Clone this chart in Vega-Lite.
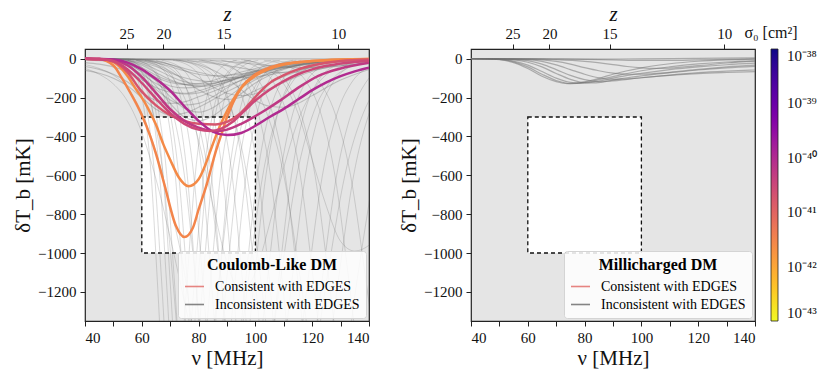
{
"$schema":"https://vega.github.io/schema/vega-lite/v6.json",
"padding":{"left":11,"top":2,"right":5,"bottom":5},
"background":"white",
"config":{
 "font":"Liberation Serif",
 "view":{"fill":"#e5e5e5","stroke":"#222222","strokeWidth":1.2},
 "axis":{"grid":false,"domain":false,"tickColor":"#222222","tickSize":5,"tickWidth":1,"labelFont":"Liberation Serif","titleFont":"Liberation Serif","labelColor":"#111111","titleColor":"#111111","labelFontSize":15,"titleFontSize":21,"titleFontWeight":"normal"},
 "legend":{"labelFont":"Liberation Serif","titleFont":"Liberation Serif"}
},
"datasets":{
"ce":[
{"c":"A","s":3e-42,"x":40,"y":0},{"c":"A","s":3e-42,"x":45,"y":-3},{"c":"A","s":3e-42,"x":50,"y":-35},{"c":"A","s":3e-42,"x":53,"y":-100},{"c":"A","s":3e-42,"x":55,"y":-150},{"c":"A","s":3e-42,"x":58,"y":-230},{"c":"A","s":3e-42,"x":60,"y":-290},{"c":"A","s":3e-42,"x":63,"y":-400},{"c":"A","s":3e-42,"x":65,"y":-490},{"c":"A","s":3e-42,"x":68,"y":-650},{"c":"A","s":3e-42,"x":72,"y":-860},{"c":"A","s":3e-42,"x":75,"y":-918},{"c":"A","s":3e-42,"x":78,"y":-870},{"c":"A","s":3e-42,"x":80,"y":-776},{"c":"A","s":3e-42,"x":83,"y":-640},{"c":"A","s":3e-42,"x":86,"y":-480},{"c":"A","s":3e-42,"x":88,"y":-390},{"c":"A","s":3e-42,"x":90,"y":-300},{"c":"A","s":3e-42,"x":92,"y":-230},{"c":"A","s":3e-42,"x":95,"y":-150},{"c":"A","s":3e-42,"x":100,"y":-80},{"c":"A","s":3e-42,"x":105,"y":-45},{"c":"A","s":3e-42,"x":110,"y":-27},{"c":"A","s":3e-42,"x":120,"y":-12},{"c":"A","s":3e-42,"x":130,"y":-5},{"c":"A","s":3e-42,"x":140,"y":-2},
{"c":"B","s":2.5e-42,"x":40,"y":0},{"c":"B","s":2.5e-42,"x":45,"y":-2},{"c":"B","s":2.5e-42,"x":50,"y":-18},{"c":"B","s":2.5e-42,"x":55,"y":-90},{"c":"B","s":2.5e-42,"x":58,"y":-158},{"c":"B","s":2.5e-42,"x":60,"y":-200},{"c":"B","s":2.5e-42,"x":62,"y":-250},{"c":"B","s":2.5e-42,"x":65,"y":-340},{"c":"B","s":2.5e-42,"x":67.6,"y":-441},{"c":"B","s":2.5e-42,"x":70,"y":-520},{"c":"B","s":2.5e-42,"x":73,"y":-610},{"c":"B","s":2.5e-42,"x":76.5,"y":-656},{"c":"B","s":2.5e-42,"x":80,"y":-620},{"c":"B","s":2.5e-42,"x":82,"y":-560},{"c":"B","s":2.5e-42,"x":85,"y":-440},{"c":"B","s":2.5e-42,"x":88,"y":-330},{"c":"B","s":2.5e-42,"x":90,"y":-270},{"c":"B","s":2.5e-42,"x":92,"y":-215},{"c":"B","s":2.5e-42,"x":95,"y":-150},{"c":"B","s":2.5e-42,"x":100,"y":-88},{"c":"B","s":2.5e-42,"x":105,"y":-52},{"c":"B","s":2.5e-42,"x":110,"y":-30},{"c":"B","s":2.5e-42,"x":120,"y":-12},{"c":"B","s":2.5e-42,"x":130,"y":-4},{"c":"B","s":2.5e-42,"x":140,"y":-1},
{"c":"P1","s":1.8e-41,"x":40,"y":0},{"c":"P1","s":1.8e-41,"x":45,"y":-2},{"c":"P1","s":1.8e-41,"x":50,"y":-15},{"c":"P1","s":1.8e-41,"x":55,"y":-70},{"c":"P1","s":1.8e-41,"x":59.4,"y":-159},{"c":"P1","s":1.8e-41,"x":65,"y":-240},{"c":"P1","s":1.8e-41,"x":70,"y":-290},{"c":"P1","s":1.8e-41,"x":75,"y":-320},{"c":"P1","s":1.8e-41,"x":80,"y":-335},{"c":"P1","s":1.8e-41,"x":86,"y":-338},{"c":"P1","s":1.8e-41,"x":90,"y":-325},{"c":"P1","s":1.8e-41,"x":94,"y":-290},{"c":"P1","s":1.8e-41,"x":98,"y":-230},{"c":"P1","s":1.8e-41,"x":102,"y":-165},{"c":"P1","s":1.8e-41,"x":106,"y":-115},{"c":"P1","s":1.8e-41,"x":110,"y":-85},{"c":"P1","s":1.8e-41,"x":115,"y":-55},{"c":"P1","s":1.8e-41,"x":120,"y":-35},{"c":"P1","s":1.8e-41,"x":130,"y":-12},{"c":"P1","s":1.8e-41,"x":140,"y":-4},
{"c":"P2","s":5.6e-41,"x":40,"y":0},{"c":"P2","s":5.6e-41,"x":45,"y":-2},{"c":"P2","s":5.6e-41,"x":50,"y":-8},{"c":"P2","s":5.6e-41,"x":55,"y":-35},{"c":"P2","s":5.6e-41,"x":60,"y":-95},{"c":"P2","s":5.6e-41,"x":64,"y":-159},{"c":"P2","s":5.6e-41,"x":70,"y":-260},{"c":"P2","s":5.6e-41,"x":75,"y":-320},{"c":"P2","s":5.6e-41,"x":80,"y":-355},{"c":"P2","s":5.6e-41,"x":86,"y":-373},{"c":"P2","s":5.6e-41,"x":90,"y":-365},{"c":"P2","s":5.6e-41,"x":95,"y":-335},{"c":"P2","s":5.6e-41,"x":100,"y":-295},{"c":"P2","s":5.6e-41,"x":104,"y":-260},{"c":"P2","s":5.6e-41,"x":109,"y":-212},{"c":"P2","s":5.6e-41,"x":115,"y":-150},{"c":"P2","s":5.6e-41,"x":122,"y":-89},{"c":"P2","s":5.6e-41,"x":130,"y":-50},{"c":"P2","s":5.6e-41,"x":140,"y":-21},
{"c":"P3","s":1e-40,"x":40,"y":0},{"c":"P3","s":1e-40,"x":45,"y":-1},{"c":"P3","s":1e-40,"x":50,"y":-4},{"c":"P3","s":1e-40,"x":55,"y":-20},{"c":"P3","s":1e-40,"x":60,"y":-55},{"c":"P3","s":1e-40,"x":65,"y":-105},{"c":"P3","s":1e-40,"x":70,"y":-165},{"c":"P3","s":1e-40,"x":75,"y":-245},{"c":"P3","s":1e-40,"x":80,"y":-320},{"c":"P3","s":1e-40,"x":85,"y":-375},{"c":"P3","s":1e-40,"x":90,"y":-393},{"c":"P3","s":1e-40,"x":95,"y":-382},{"c":"P3","s":1e-40,"x":100,"y":-345},{"c":"P3","s":1e-40,"x":105,"y":-300},{"c":"P3","s":1e-40,"x":110,"y":-258},{"c":"P3","s":1e-40,"x":115,"y":-210},{"c":"P3","s":1e-40,"x":120,"y":-162},{"c":"P3","s":1e-40,"x":125,"y":-122},{"c":"P3","s":1e-40,"x":130,"y":-90},{"c":"P3","s":1e-40,"x":135,"y":-65},{"c":"P3","s":1e-40,"x":140,"y":-46},
{"c":"P4","s":3e-41,"x":40,"y":0},{"c":"P4","s":3e-41,"x":45,"y":-2},{"c":"P4","s":3e-41,"x":50,"y":-12},{"c":"P4","s":3e-41,"x":55,"y":-55},{"c":"P4","s":3e-41,"x":60,"y":-125},{"c":"P4","s":3e-41,"x":65,"y":-205},{"c":"P4","s":3e-41,"x":70,"y":-280},{"c":"P4","s":3e-41,"x":75,"y":-335},{"c":"P4","s":3e-41,"x":80,"y":-365},{"c":"P4","s":3e-41,"x":84,"y":-372},{"c":"P4","s":3e-41,"x":88,"y":-360},{"c":"P4","s":3e-41,"x":92,"y":-325},{"c":"P4","s":3e-41,"x":96,"y":-270},{"c":"P4","s":3e-41,"x":100,"y":-215},{"c":"P4","s":3e-41,"x":105,"y":-160},{"c":"P4","s":3e-41,"x":110,"y":-115},{"c":"P4","s":3e-41,"x":115,"y":-80},{"c":"P4","s":3e-41,"x":120,"y":-55},{"c":"P4","s":3e-41,"x":130,"y":-25},{"c":"P4","s":3e-41,"x":140,"y":-10}
],
"cs":[
{"c":"s1","x":40,"y":0},{"c":"s1","x":50,"y":-4},{"c":"s1","x":55,"y":-20},{"c":"s1","x":60,"y":-55},{"c":"s1","x":65,"y":-95},{"c":"s1","x":70,"y":-122},{"c":"s1","x":75,"y":-132},{"c":"s1","x":80,"y":-128},{"c":"s1","x":85,"y":-112},{"c":"s1","x":90,"y":-88},{"c":"s1","x":95,"y":-68},{"c":"s1","x":100,"y":-50},{"c":"s1","x":110,"y":-25},{"c":"s1","x":120,"y":-11},{"c":"s1","x":130,"y":-4},{"c":"s1","x":140,"y":-1},
{"c":"s2","x":40,"y":0},{"c":"s2","x":50,"y":-3},{"c":"s2","x":55,"y":-15},{"c":"s2","x":60,"y":-45},{"c":"s2","x":65,"y":-85},{"c":"s2","x":70,"y":-115},{"c":"s2","x":75,"y":-133},{"c":"s2","x":80,"y":-138},{"c":"s2","x":85,"y":-128},{"c":"s2","x":90,"y":-106},{"c":"s2","x":95,"y":-82},{"c":"s2","x":100,"y":-60},{"c":"s2","x":110,"y":-30},{"c":"s2","x":120,"y":-14},{"c":"s2","x":130,"y":-6},{"c":"s2","x":140,"y":-2},
{"c":"s3","x":40,"y":0},{"c":"s3","x":50,"y":-2},{"c":"s3","x":55,"y":-10},{"c":"s3","x":60,"y":-33},{"c":"s3","x":65,"y":-72},{"c":"s3","x":70,"y":-108},{"c":"s3","x":75,"y":-132},{"c":"s3","x":80,"y":-143},{"c":"s3","x":85,"y":-138},{"c":"s3","x":90,"y":-120},{"c":"s3","x":95,"y":-97},{"c":"s3","x":100,"y":-75},{"c":"s3","x":110,"y":-40},{"c":"s3","x":120,"y":-20},{"c":"s3","x":130,"y":-9},{"c":"s3","x":140,"y":-4},
{"c":"s4","x":40,"y":-3},{"c":"s4","x":50,"y":-12},{"c":"s4","x":55,"y":-35},{"c":"s4","x":60,"y":-80},{"c":"s4","x":65,"y":-128},{"c":"s4","x":70,"y":-165},{"c":"s4","x":75,"y":-182},{"c":"s4","x":80,"y":-176},{"c":"s4","x":85,"y":-152},{"c":"s4","x":90,"y":-122},{"c":"s4","x":95,"y":-92},{"c":"s4","x":100,"y":-66},{"c":"s4","x":110,"y":-30},{"c":"s4","x":120,"y":-12},{"c":"s4","x":130,"y":-5},{"c":"s4","x":140,"y":-2},
{"c":"s5","x":40,"y":-1},{"c":"s5","x":50,"y":-8},{"c":"s5","x":55,"y":-30},{"c":"s5","x":60,"y":-88},{"c":"s5","x":65,"y":-158},{"c":"s5","x":70,"y":-212},{"c":"s5","x":75,"y":-238},{"c":"s5","x":80,"y":-230},{"c":"s5","x":85,"y":-196},{"c":"s5","x":90,"y":-150},{"c":"s5","x":95,"y":-110},{"c":"s5","x":100,"y":-78},{"c":"s5","x":110,"y":-35},{"c":"s5","x":120,"y":-15},{"c":"s5","x":130,"y":-6},{"c":"s5","x":140,"y":-2},
{"c":"s6","x":40,"y":0},{"c":"s6","x":50,"y":-5},{"c":"s6","x":55,"y":-20},{"c":"s6","x":60,"y":-50},{"c":"s6","x":65,"y":-115},{"c":"s6","x":70,"y":-195},{"c":"s6","x":75,"y":-255},{"c":"s6","x":80,"y":-275},{"c":"s6","x":85,"y":-252},{"c":"s6","x":90,"y":-200},{"c":"s6","x":95,"y":-150},{"c":"s6","x":100,"y":-108},{"c":"s6","x":110,"y":-50},{"c":"s6","x":120,"y":-20},{"c":"s6","x":130,"y":-8},{"c":"s6","x":140,"y":-3},
{"c":"s7","x":40,"y":0},{"c":"s7","x":55,"y":-5},{"c":"s7","x":60,"y":-18},{"c":"s7","x":65,"y":-40},{"c":"s7","x":70,"y":-72},{"c":"s7","x":75,"y":-98},{"c":"s7","x":80,"y":-113},{"c":"s7","x":85,"y":-118},{"c":"s7","x":90,"y":-110},{"c":"s7","x":95,"y":-95},{"c":"s7","x":100,"y":-78},{"c":"s7","x":110,"y":-48},{"c":"s7","x":120,"y":-27},{"c":"s7","x":130,"y":-14},{"c":"s7","x":140,"y":-7},
{"c":"s8","x":40,"y":0},{"c":"s8","x":60,"y":-5},{"c":"s8","x":65,"y":-14},{"c":"s8","x":70,"y":-30},{"c":"s8","x":75,"y":-50},{"c":"s8","x":80,"y":-70},{"c":"s8","x":85,"y":-86},{"c":"s8","x":90,"y":-96},{"c":"s8","x":95,"y":-98},{"c":"s8","x":100,"y":-93},{"c":"s8","x":110,"y":-70},{"c":"s8","x":120,"y":-45},{"c":"s8","x":130,"y":-26},{"c":"s8","x":140,"y":-14},
{"c":"s9","x":40,"y":-20},{"c":"s9","x":45,"y":-28},{"c":"s9","x":50,"y":-42},{"c":"s9","x":55,"y":-68},{"c":"s9","x":60,"y":-108},{"c":"s9","x":65,"y":-148},{"c":"s9","x":70,"y":-172},{"c":"s9","x":75,"y":-178},{"c":"s9","x":80,"y":-165},{"c":"s9","x":85,"y":-142},{"c":"s9","x":90,"y":-118},{"c":"s9","x":100,"y":-70},{"c":"s9","x":110,"y":-35},{"c":"s9","x":120,"y":-15},{"c":"s9","x":130,"y":-6},{"c":"s9","x":140,"y":-2},
{"c":"s10","x":40,"y":0},{"c":"s10","x":55,"y":-3},{"c":"s10","x":60,"y":-10},{"c":"s10","x":65,"y":-30},{"c":"s10","x":70,"y":-65},{"c":"s10","x":75,"y":-110},{"c":"s10","x":80,"y":-160},{"c":"s10","x":85,"y":-195},{"c":"s10","x":90,"y":-210},{"c":"s10","x":95,"y":-198},{"c":"s10","x":100,"y":-165},{"c":"s10","x":110,"y":-92},{"c":"s10","x":120,"y":-42},{"c":"s10","x":130,"y":-16},{"c":"s10","x":140,"y":-6},
{"c":"s11","x":40,"y":0},{"c":"s11","x":60,"y":-4},{"c":"s11","x":65,"y":-12},{"c":"s11","x":70,"y":-30},{"c":"s11","x":75,"y":-60},{"c":"s11","x":80,"y":-100},{"c":"s11","x":85,"y":-145},{"c":"s11","x":90,"y":-178},{"c":"s11","x":95,"y":-190},{"c":"s11","x":100,"y":-180},{"c":"s11","x":105,"y":-155},{"c":"s11","x":110,"y":-122},{"c":"s11","x":120,"y":-65},{"c":"s11","x":130,"y":-30},{"c":"s11","x":140,"y":-12},
{"c":"s12","x":40,"y":-8},{"c":"s12","x":50,"y":-15},{"c":"s12","x":55,"y":-30},{"c":"s12","x":60,"y":-65},{"c":"s12","x":65,"y":-110},{"c":"s12","x":70,"y":-140},{"c":"s12","x":75,"y":-150},{"c":"s12","x":80,"y":-145},{"c":"s12","x":85,"y":-130},{"c":"s12","x":90,"y":-110},{"c":"s12","x":100,"y":-65},{"c":"s12","x":110,"y":-32},{"c":"s12","x":120,"y":-14},{"c":"s12","x":130,"y":-5},{"c":"s12","x":140,"y":-2},
{"c":"s13","x":40,"y":0},{"c":"s13","x":50,"y":-2},{"c":"s13","x":55,"y":-8},{"c":"s13","x":60,"y":-25},{"c":"s13","x":65,"y":-55},{"c":"s13","x":70,"y":-90},{"c":"s13","x":75,"y":-118},{"c":"s13","x":80,"y":-130},{"c":"s13","x":85,"y":-126},{"c":"s13","x":90,"y":-112},{"c":"s13","x":95,"y":-94},{"c":"s13","x":100,"y":-75},{"c":"s13","x":110,"y":-44},{"c":"s13","x":120,"y":-22},{"c":"s13","x":130,"y":-10},{"c":"s13","x":140,"y":-4},
{"c":"s14","x":40,"y":0},{"c":"s14","x":55,"y":-2},{"c":"s14","x":60,"y":-8},{"c":"s14","x":65,"y":-20},{"c":"s14","x":70,"y":-40},{"c":"s14","x":75,"y":-62},{"c":"s14","x":80,"y":-80},{"c":"s14","x":85,"y":-88},{"c":"s14","x":90,"y":-86},{"c":"s14","x":95,"y":-78},{"c":"s14","x":100,"y":-66},{"c":"s14","x":110,"y":-44},{"c":"s14","x":120,"y":-26},{"c":"s14","x":130,"y":-14},{"c":"s14","x":140,"y":-7},
{"c":"s15","x":40,"y":-2},{"c":"s15","x":50,"y":-8},{"c":"s15","x":55,"y":-25},{"c":"s15","x":60,"y":-70},{"c":"s15","x":65,"y":-140},{"c":"s15","x":70,"y":-230},{"c":"s15","x":75,"y":-300},{"c":"s15","x":80,"y":-320},{"c":"s15","x":85,"y":-295},{"c":"s15","x":90,"y":-240},{"c":"s15","x":95,"y":-180},{"c":"s15","x":100,"y":-125},{"c":"s15","x":110,"y":-55},{"c":"s15","x":120,"y":-22},{"c":"s15","x":130,"y":-8},{"c":"s15","x":140,"y":-3},
{"c":"s16","x":40,"y":-40},{"c":"s16","x":45,"y":-55},{"c":"s16","x":50,"y":-80},{"c":"s16","x":55,"y":-120},{"c":"s16","x":60,"y":-175},{"c":"s16","x":65,"y":-215},{"c":"s16","x":70,"y":-230},{"c":"s16","x":75,"y":-222},{"c":"s16","x":80,"y":-196},{"c":"s16","x":90,"y":-140},{"c":"s16","x":100,"y":-85},{"c":"s16","x":110,"y":-42},{"c":"s16","x":120,"y":-18},{"c":"s16","x":130,"y":-7},{"c":"s16","x":140,"y":-3},
{"c":"s17","x":40,"y":0},{"c":"s17","x":70,"y":-5},{"c":"s17","x":80,"y":-15},{"c":"s17","x":90,"y":-35},{"c":"s17","x":100,"y":-60},{"c":"s17","x":105,"y":-70},{"c":"s17","x":110,"y":-72},{"c":"s17","x":115,"y":-68},{"c":"s17","x":120,"y":-58},{"c":"s17","x":130,"y":-36},{"c":"s17","x":140,"y":-20},
{"c":"s18","x":40,"y":0},{"c":"s18","x":80,"y":-5},{"c":"s18","x":90,"y":-14},{"c":"s18","x":100,"y":-28},{"c":"s18","x":110,"y":-42},{"c":"s18","x":115,"y":-46},{"c":"s18","x":120,"y":-45},{"c":"s18","x":130,"y":-36},{"c":"s18","x":140,"y":-24},
{"c":"s19","x":40,"y":0},{"c":"s19","x":70,"y":-5},{"c":"s19","x":80,"y":-30},{"c":"s19","x":90,"y":-100},{"c":"s19","x":95,"y":-160},{"c":"s19","x":100,"y":-215},{"c":"s19","x":105,"y":-245},{"c":"s19","x":110,"y":-250},{"c":"s19","x":115,"y":-230},{"c":"s19","x":120,"y":-190},{"c":"s19","x":130,"y":-110},{"c":"s19","x":140,"y":-55},
{"c":"s20","x":40,"y":0},{"c":"s20","x":90,"y":-1},{"c":"s20","x":140,"y":0},
{"c":"s21","x":40,"y":-60},{"c":"s21","x":45,"y":-75},{"c":"s21","x":50,"y":-100},{"c":"s21","x":55,"y":-140},{"c":"s21","x":60,"y":-200},{"c":"s21","x":65,"y":-260},{"c":"s21","x":70,"y":-290},{"c":"s21","x":75,"y":-280},{"c":"s21","x":80,"y":-250},{"c":"s21","x":90,"y":-170},{"c":"s21","x":100,"y":-100},{"c":"s21","x":110,"y":-50},{"c":"s21","x":120,"y":-22},{"c":"s21","x":140,"y":-4}
],
"cd":[
{"c":"d1","x":52,"y":-8},{"c":"d1","x":56.5,"y":-50},{"c":"d1","x":58.8,"y":-120},{"c":"d1","x":61,"y":-280},{"c":"d1","x":63.3,"y":-600},{"c":"d1","x":65.5,"y":-1150},{"c":"d1","x":67.8,"y":-1750},{"c":"d1","x":70,"y":-2000},{"c":"d1","x":72.9,"y":-1750},{"c":"d1","x":75.9,"y":-1150},{"c":"d1","x":78.8,"y":-600},{"c":"d1","x":81.7,"y":-280},{"c":"d1","x":84.6,"y":-120},{"c":"d1","x":87.6,"y":-50},{"c":"d1","x":93.4,"y":-8},
{"c":"d2","x":52,"y":-8},{"c":"d2","x":57,"y":-50},{"c":"d2","x":59.5,"y":-120},{"c":"d2","x":62,"y":-280},{"c":"d2","x":64.5,"y":-600},{"c":"d2","x":67,"y":-1150},{"c":"d2","x":69.5,"y":-1750},{"c":"d2","x":72,"y":-2000},{"c":"d2","x":75.3,"y":-1750},{"c":"d2","x":78.5,"y":-1150},{"c":"d2","x":81.8,"y":-600},{"c":"d2","x":85,"y":-280},{"c":"d2","x":88.3,"y":-120},{"c":"d2","x":91.5,"y":-50},{"c":"d2","x":98,"y":-8},
{"c":"d3","x":55,"y":-8},{"c":"d3","x":60,"y":-50},{"c":"d3","x":62.5,"y":-120},{"c":"d3","x":65,"y":-280},{"c":"d3","x":67.5,"y":-600},{"c":"d3","x":70,"y":-1150},{"c":"d3","x":72.5,"y":-1750},{"c":"d3","x":75,"y":-2000},{"c":"d3","x":78.3,"y":-1750},{"c":"d3","x":81.5,"y":-1150},{"c":"d3","x":84.8,"y":-600},{"c":"d3","x":88,"y":-280},{"c":"d3","x":91.3,"y":-120},{"c":"d3","x":94.5,"y":-50},{"c":"d3","x":101,"y":-8},
{"c":"d4","x":55,"y":-8},{"c":"d4","x":60.5,"y":-50},{"c":"d4","x":63.3,"y":-120},{"c":"d4","x":66,"y":-280},{"c":"d4","x":68.8,"y":-600},{"c":"d4","x":71.5,"y":-1150},{"c":"d4","x":74.3,"y":-1750},{"c":"d4","x":77,"y":-2000},{"c":"d4","x":80.6,"y":-1750},{"c":"d4","x":84.2,"y":-1150},{"c":"d4","x":87.7,"y":-600},{"c":"d4","x":91.3,"y":-280},{"c":"d4","x":94.9,"y":-120},{"c":"d4","x":98.5,"y":-50},{"c":"d4","x":105.6,"y":-8},
{"c":"d5","x":58,"y":-8},{"c":"d5","x":63.5,"y":-50},{"c":"d5","x":66.3,"y":-120},{"c":"d5","x":69,"y":-280},{"c":"d5","x":71.8,"y":-600},{"c":"d5","x":74.5,"y":-1150},{"c":"d5","x":77.3,"y":-1750},{"c":"d5","x":80,"y":-2000},{"c":"d5","x":83.6,"y":-1750},{"c":"d5","x":87.2,"y":-1150},{"c":"d5","x":90.7,"y":-600},{"c":"d5","x":94.3,"y":-280},{"c":"d5","x":97.9,"y":-120},{"c":"d5","x":101.5,"y":-50},{"c":"d5","x":108.6,"y":-8},
{"c":"d6","x":58,"y":-8},{"c":"d6","x":64,"y":-50},{"c":"d6","x":67,"y":-120},{"c":"d6","x":70,"y":-280},{"c":"d6","x":73,"y":-600},{"c":"d6","x":76,"y":-1150},{"c":"d6","x":79,"y":-1750},{"c":"d6","x":82,"y":-2000},{"c":"d6","x":85.9,"y":-1750},{"c":"d6","x":89.8,"y":-1150},{"c":"d6","x":93.7,"y":-600},{"c":"d6","x":97.6,"y":-280},{"c":"d6","x":101.5,"y":-120},{"c":"d6","x":105.4,"y":-50},{"c":"d6","x":113.2,"y":-8},
{"c":"d7","x":61,"y":-8},{"c":"d7","x":67,"y":-50},{"c":"d7","x":70,"y":-120},{"c":"d7","x":73,"y":-280},{"c":"d7","x":76,"y":-600},{"c":"d7","x":79,"y":-1150},{"c":"d7","x":82,"y":-1750},{"c":"d7","x":85,"y":-2000},{"c":"d7","x":88.9,"y":-1750},{"c":"d7","x":92.8,"y":-1150},{"c":"d7","x":96.7,"y":-600},{"c":"d7","x":100.6,"y":-280},{"c":"d7","x":104.5,"y":-120},{"c":"d7","x":108.4,"y":-50},{"c":"d7","x":116.2,"y":-8},
{"c":"d8","x":62,"y":-8},{"c":"d8","x":68.5,"y":-50},{"c":"d8","x":71.8,"y":-120},{"c":"d8","x":75,"y":-280},{"c":"d8","x":78.3,"y":-600},{"c":"d8","x":81.5,"y":-1150},{"c":"d8","x":84.8,"y":-1750},{"c":"d8","x":88,"y":-2000},{"c":"d8","x":92.2,"y":-1750},{"c":"d8","x":96.5,"y":-1150},{"c":"d8","x":100.7,"y":-600},{"c":"d8","x":104.9,"y":-280},{"c":"d8","x":109.1,"y":-120},{"c":"d8","x":113.4,"y":-50},{"c":"d8","x":121.8,"y":-8},
{"c":"d9","x":65,"y":-8},{"c":"d9","x":71.5,"y":-50},{"c":"d9","x":74.8,"y":-120},{"c":"d9","x":78,"y":-280},{"c":"d9","x":81.3,"y":-600},{"c":"d9","x":84.5,"y":-1150},{"c":"d9","x":87.8,"y":-1750},{"c":"d9","x":91,"y":-2000},{"c":"d9","x":95.2,"y":-1750},{"c":"d9","x":99.5,"y":-1150},{"c":"d9","x":103.7,"y":-600},{"c":"d9","x":107.9,"y":-280},{"c":"d9","x":112.1,"y":-120},{"c":"d9","x":116.4,"y":-50},{"c":"d9","x":124.8,"y":-8},
{"c":"d10","x":67,"y":-8},{"c":"d10","x":74,"y":-50},{"c":"d10","x":77.5,"y":-120},{"c":"d10","x":81,"y":-280},{"c":"d10","x":84.5,"y":-600},{"c":"d10","x":88,"y":-1150},{"c":"d10","x":91.5,"y":-1750},{"c":"d10","x":95,"y":-2000},{"c":"d10","x":99.6,"y":-1750},{"c":"d10","x":104.1,"y":-1150},{"c":"d10","x":108.7,"y":-600},{"c":"d10","x":113.2,"y":-280},{"c":"d10","x":117.8,"y":-120},{"c":"d10","x":122.3,"y":-50},{"c":"d10","x":131.4,"y":-8},
{"c":"d11","x":71,"y":-8},{"c":"d11","x":78,"y":-50},{"c":"d11","x":81.5,"y":-120},{"c":"d11","x":85,"y":-280},{"c":"d11","x":88.5,"y":-600},{"c":"d11","x":92,"y":-1150},{"c":"d11","x":95.5,"y":-1750},{"c":"d11","x":99,"y":-2000},{"c":"d11","x":103.6,"y":-1750},{"c":"d11","x":108.1,"y":-1150},{"c":"d11","x":112.7,"y":-600},{"c":"d11","x":117.2,"y":-280},{"c":"d11","x":121.8,"y":-120},{"c":"d11","x":126.3,"y":-50},{"c":"d11","x":135.4,"y":-8},
{"c":"d12","x":73,"y":-8},{"c":"d12","x":80.5,"y":-50},{"c":"d12","x":84.3,"y":-120},{"c":"d12","x":88,"y":-280},{"c":"d12","x":91.8,"y":-600},{"c":"d12","x":95.5,"y":-1150},{"c":"d12","x":99.3,"y":-1750},{"c":"d12","x":103,"y":-2000},{"c":"d12","x":107.9,"y":-1750},{"c":"d12","x":112.8,"y":-1150},{"c":"d12","x":117.6,"y":-600},{"c":"d12","x":122.5,"y":-280},{"c":"d12","x":127.4,"y":-120},{"c":"d12","x":132.3,"y":-50},{"c":"d12","x":142,"y":-8},
{"c":"d13","x":76,"y":-8},{"c":"d13","x":84,"y":-50},{"c":"d13","x":88,"y":-120},{"c":"d13","x":92,"y":-280},{"c":"d13","x":96,"y":-600},{"c":"d13","x":100,"y":-1150},{"c":"d13","x":104,"y":-1750},{"c":"d13","x":108,"y":-2000},{"c":"d13","x":113.2,"y":-1750},{"c":"d13","x":118.4,"y":-1150},{"c":"d13","x":123.6,"y":-600},{"c":"d13","x":128.8,"y":-280},{"c":"d13","x":134,"y":-120},{"c":"d13","x":139.2,"y":-50},{"c":"d13","x":149.6,"y":-8},
{"c":"d14","x":81,"y":-8},{"c":"d14","x":89,"y":-50},{"c":"d14","x":93,"y":-120},{"c":"d14","x":97,"y":-280},{"c":"d14","x":101,"y":-600},{"c":"d14","x":105,"y":-1150},{"c":"d14","x":109,"y":-1750},{"c":"d14","x":113,"y":-2000},{"c":"d14","x":118.2,"y":-1750},{"c":"d14","x":123.4,"y":-1150},{"c":"d14","x":128.6,"y":-600},{"c":"d14","x":133.8,"y":-280},{"c":"d14","x":139,"y":-120},{"c":"d14","x":144.2,"y":-50},
{"c":"d15","x":84,"y":-8},{"c":"d15","x":92.5,"y":-50},{"c":"d15","x":96.8,"y":-120},{"c":"d15","x":101,"y":-280},{"c":"d15","x":105.3,"y":-600},{"c":"d15","x":109.5,"y":-1150},{"c":"d15","x":113.8,"y":-1750},{"c":"d15","x":118,"y":-2000},{"c":"d15","x":123.5,"y":-1750},{"c":"d15","x":129.1,"y":-1150},{"c":"d15","x":134.6,"y":-600},{"c":"d15","x":140.1,"y":-280},{"c":"d15","x":145.6,"y":-120},
{"c":"d16","x":88,"y":-8},{"c":"d16","x":97,"y":-50},{"c":"d16","x":101.5,"y":-120},{"c":"d16","x":106,"y":-280},{"c":"d16","x":110.5,"y":-600},{"c":"d16","x":115,"y":-1150},{"c":"d16","x":119.5,"y":-1750},{"c":"d16","x":124,"y":-2000},{"c":"d16","x":129.9,"y":-1750},{"c":"d16","x":135.7,"y":-1150},{"c":"d16","x":141.6,"y":-600},
{"c":"d17","x":92,"y":-8},{"c":"d17","x":101.5,"y":-50},{"c":"d17","x":106.3,"y":-120},{"c":"d17","x":111,"y":-280},{"c":"d17","x":115.8,"y":-600},{"c":"d17","x":120.5,"y":-1150},{"c":"d17","x":125.3,"y":-1750},{"c":"d17","x":130,"y":-2000},{"c":"d17","x":136.2,"y":-1750},{"c":"d17","x":142.4,"y":-1150},
{"c":"d18","x":96,"y":-8},{"c":"d18","x":106,"y":-50},{"c":"d18","x":111,"y":-120},{"c":"d18","x":116,"y":-280},{"c":"d18","x":121,"y":-600},{"c":"d18","x":126,"y":-1150},{"c":"d18","x":131,"y":-1750},{"c":"d18","x":136,"y":-2000},{"c":"d18","x":142.5,"y":-1750},
{"c":"d19","x":103,"y":-8},{"c":"d19","x":113,"y":-50},{"c":"d19","x":118,"y":-120},{"c":"d19","x":123,"y":-280},{"c":"d19","x":128,"y":-600},{"c":"d19","x":133,"y":-1150},{"c":"d19","x":138,"y":-1750},{"c":"d19","x":143,"y":-2000},
{"c":"d20","x":106,"y":-8},{"c":"d20","x":117,"y":-50},{"c":"d20","x":122.5,"y":-120},{"c":"d20","x":128,"y":-280},{"c":"d20","x":133.5,"y":-600},{"c":"d20","x":139,"y":-1150},{"c":"d20","x":144.5,"y":-1750},
{"c":"d21","x":50,"y":-8},{"c":"d21","x":57,"y":-50},{"c":"d21","x":60.5,"y":-120},{"c":"d21","x":64,"y":-280},{"c":"d21","x":67.5,"y":-600},{"c":"d21","x":71,"y":-1150},{"c":"d21","x":74.5,"y":-1750},{"c":"d21","x":78,"y":-2000},{"c":"d21","x":82.6,"y":-1750},{"c":"d21","x":87.1,"y":-1150},{"c":"d21","x":91.7,"y":-600},{"c":"d21","x":96.2,"y":-280},{"c":"d21","x":100.8,"y":-120},{"c":"d21","x":105.3,"y":-50},{"c":"d21","x":114.4,"y":-8},
{"c":"d22","x":55,"y":-8},{"c":"d22","x":63,"y":-50},{"c":"d22","x":67,"y":-120},{"c":"d22","x":71,"y":-280},{"c":"d22","x":75,"y":-600},{"c":"d22","x":79,"y":-1150},{"c":"d22","x":83,"y":-1750},{"c":"d22","x":87,"y":-2000},{"c":"d22","x":92.2,"y":-1750},{"c":"d22","x":97.4,"y":-1150},{"c":"d22","x":102.6,"y":-600},{"c":"d22","x":107.8,"y":-280},{"c":"d22","x":113,"y":-120},{"c":"d22","x":118.2,"y":-50},{"c":"d22","x":128.6,"y":-8},
{"c":"d23","x":61,"y":-8},{"c":"d23","x":70,"y":-50},{"c":"d23","x":74.5,"y":-120},{"c":"d23","x":79,"y":-280},{"c":"d23","x":83.5,"y":-600},{"c":"d23","x":88,"y":-1150},{"c":"d23","x":92.5,"y":-1750},{"c":"d23","x":97,"y":-2000},{"c":"d23","x":102.9,"y":-1750},{"c":"d23","x":108.7,"y":-1150},{"c":"d23","x":114.6,"y":-600},{"c":"d23","x":120.4,"y":-280},{"c":"d23","x":126.3,"y":-120},{"c":"d23","x":132.1,"y":-50},{"c":"d23","x":143.8,"y":-8},
{"c":"d24","x":72,"y":-8},{"c":"d24","x":82,"y":-50},{"c":"d24","x":87,"y":-120},{"c":"d24","x":92,"y":-280},{"c":"d24","x":97,"y":-600},{"c":"d24","x":102,"y":-1150},{"c":"d24","x":107,"y":-1750},{"c":"d24","x":112,"y":-2000},{"c":"d24","x":118.5,"y":-1750},{"c":"d24","x":125,"y":-1150},{"c":"d24","x":131.5,"y":-600},{"c":"d24","x":138,"y":-280},{"c":"d24","x":144.5,"y":-120},
{"c":"d25","x":80,"y":-8},{"c":"d25","x":92,"y":-50},{"c":"d25","x":98,"y":-120},{"c":"d25","x":104,"y":-280},{"c":"d25","x":110,"y":-600},{"c":"d25","x":116,"y":-1150},{"c":"d25","x":122,"y":-1750},{"c":"d25","x":128,"y":-2000},{"c":"d25","x":135.8,"y":-1750},{"c":"d25","x":143.6,"y":-1150},
{"c":"d26","x":54.3,"y":-8},{"c":"d26","x":59.1,"y":-50},{"c":"d26","x":61.5,"y":-120},{"c":"d26","x":63.9,"y":-280},{"c":"d26","x":66.3,"y":-600},{"c":"d26","x":68.7,"y":-1150},{"c":"d26","x":71.1,"y":-1750},{"c":"d26","x":73.5,"y":-2000},{"c":"d26","x":76.6,"y":-1750},{"c":"d26","x":79.7,"y":-1150},{"c":"d26","x":82.9,"y":-600},{"c":"d26","x":86,"y":-280},{"c":"d26","x":89.1,"y":-120},{"c":"d26","x":92.2,"y":-50},{"c":"d26","x":98.5,"y":-8},
{"c":"e1","x":40,"y":-50},{"c":"e1","x":45,"y":-80},{"c":"e1","x":50,"y":-130},{"c":"e1","x":55,"y":-220},{"c":"e1","x":60,"y":-380},{"c":"e1","x":65,"y":-620},{"c":"e1","x":70,"y":-920},{"c":"e1","x":75,"y":-1250},{"c":"e1","x":78,"y":-1450},{"c":"e1","x":80,"y":-1600},
{"c":"e3","x":40,"y":-30},{"c":"e3","x":45,"y":-50},{"c":"e3","x":50,"y":-85},{"c":"e3","x":55,"y":-150},{"c":"e3","x":60,"y":-280},{"c":"e3","x":65,"y":-480},{"c":"e3","x":70,"y":-760},{"c":"e3","x":75,"y":-1100},{"c":"e3","x":78,"y":-1400},{"c":"e3","x":80,"y":-1600},
{"c":"u1","x":95,"y":-5},{"c":"u1","x":100,"y":-20},{"c":"u1","x":105,"y":-60},{"c":"u1","x":110,"y":-130},{"c":"u1","x":115,"y":-280},{"c":"u1","x":120,"y":-520},{"c":"u1","x":125,"y":-760},{"c":"u1","x":130,"y":-940},{"c":"u1","x":135,"y":-990},{"c":"u1","x":140,"y":-960},{"c":"u1","x":145,"y":-880},
{"c":"u2","x":55,"y":-3},{"c":"u2","x":60,"y":-12},{"c":"u2","x":65,"y":-35},{"c":"u2","x":70,"y":-85},{"c":"u2","x":75,"y":-200},{"c":"u2","x":80,"y":-420},{"c":"u2","x":85,"y":-750},{"c":"u2","x":90,"y":-1050},{"c":"u2","x":95,"y":-1200},{"c":"u2","x":100,"y":-1100},{"c":"u2","x":105,"y":-850},{"c":"u2","x":110,"y":-560},{"c":"u2","x":115,"y":-320},{"c":"u2","x":120,"y":-170},{"c":"u2","x":130,"y":-40},{"c":"u2","x":140,"y":-10}
],
"mi":[
{"c":"R1","x":40,"y":0},{"c":"R1","x":45,"y":-1},{"c":"R1","x":50,"y":-5},{"c":"R1","x":55,"y":-20},{"c":"R1","x":60,"y":-50},{"c":"R1","x":65,"y":-90},{"c":"R1","x":70,"y":-118},{"c":"R1","x":74,"y":-128},{"c":"R1","x":78,"y":-124},{"c":"R1","x":82,"y":-112},{"c":"R1","x":86,"y":-97},{"c":"R1","x":90,"y":-80},{"c":"R1","x":95,"y":-62},{"c":"R1","x":100,"y":-47},{"c":"R1","x":110,"y":-26},{"c":"R1","x":120,"y":-13},{"c":"R1","x":130,"y":-6},{"c":"R1","x":140,"y":-2},
{"c":"R2","x":40,"y":0},{"c":"R2","x":45,"y":-1},{"c":"R2","x":50,"y":-4},{"c":"R2","x":55,"y":-16},{"c":"R2","x":60,"y":-42},{"c":"R2","x":65,"y":-80},{"c":"R2","x":70,"y":-112},{"c":"R2","x":75,"y":-128},{"c":"R2","x":80,"y":-122},{"c":"R2","x":85,"y":-108},{"c":"R2","x":90,"y":-92},{"c":"R2","x":95,"y":-76},{"c":"R2","x":100,"y":-62},{"c":"R2","x":110,"y":-42},{"c":"R2","x":120,"y":-27},{"c":"R2","x":130,"y":-17},{"c":"R2","x":140,"y":-11},
{"c":"R3","x":40,"y":0},{"c":"R3","x":50,"y":-3},{"c":"R3","x":55,"y":-12},{"c":"R3","x":60,"y":-33},{"c":"R3","x":65,"y":-66},{"c":"R3","x":70,"y":-100},{"c":"R3","x":75,"y":-122},{"c":"R3","x":79,"y":-127},{"c":"R3","x":85,"y":-115},{"c":"R3","x":90,"y":-100},{"c":"R3","x":95,"y":-86},{"c":"R3","x":100,"y":-75},{"c":"R3","x":110,"y":-56},{"c":"R3","x":120,"y":-42},{"c":"R3","x":130,"y":-31},{"c":"R3","x":140,"y":-23},
{"c":"R4","x":40,"y":0},{"c":"R4","x":50,"y":-2},{"c":"R4","x":55,"y":-6},{"c":"R4","x":60,"y":-18},{"c":"R4","x":65,"y":-42},{"c":"R4","x":70,"y":-76},{"c":"R4","x":75,"y":-106},{"c":"R4","x":80,"y":-123},{"c":"R4","x":84,"y":-124},{"c":"R4","x":90,"y":-110},{"c":"R4","x":95,"y":-98},{"c":"R4","x":100,"y":-88},{"c":"R4","x":110,"y":-72},{"c":"R4","x":120,"y":-58},{"c":"R4","x":130,"y":-47},{"c":"R4","x":140,"y":-39},
{"c":"R5","x":40,"y":0},{"c":"R5","x":55,"y":-3},{"c":"R5","x":60,"y":-10},{"c":"R5","x":65,"y":-28},{"c":"R5","x":70,"y":-56},{"c":"R5","x":75,"y":-86},{"c":"R5","x":80,"y":-108},{"c":"R5","x":85,"y":-118},{"c":"R5","x":90,"y":-114},{"c":"R5","x":95,"y":-106},{"c":"R5","x":100,"y":-98},{"c":"R5","x":110,"y":-84},{"c":"R5","x":120,"y":-72},{"c":"R5","x":130,"y":-64},{"c":"R5","x":140,"y":-58},
{"c":"R6","x":40,"y":0},{"c":"R6","x":55,"y":-2},{"c":"R6","x":60,"y":-5},{"c":"R6","x":65,"y":-14},{"c":"R6","x":70,"y":-32},{"c":"R6","x":75,"y":-56},{"c":"R6","x":80,"y":-80},{"c":"R6","x":85,"y":-98},{"c":"R6","x":90,"y":-106},{"c":"R6","x":95,"y":-104},{"c":"R6","x":100,"y":-98},{"c":"R6","x":110,"y":-86},{"c":"R6","x":120,"y":-77},{"c":"R6","x":130,"y":-71},{"c":"R6","x":140,"y":-66},
{"c":"R7","x":40,"y":0},{"c":"R7","x":60,"y":-2},{"c":"R7","x":65,"y":-6},{"c":"R7","x":70,"y":-14},{"c":"R7","x":75,"y":-28},{"c":"R7","x":80,"y":-46},{"c":"R7","x":85,"y":-62},{"c":"R7","x":90,"y":-74},{"c":"R7","x":95,"y":-80},{"c":"R7","x":100,"y":-80},{"c":"R7","x":110,"y":-70},{"c":"R7","x":120,"y":-55},{"c":"R7","x":130,"y":-42},{"c":"R7","x":140,"y":-33},
{"c":"R8","x":40,"y":0},{"c":"R8","x":65,"y":-2},{"c":"R8","x":70,"y":-5},{"c":"R8","x":80,"y":-14},{"c":"R8","x":90,"y":-30},{"c":"R8","x":95,"y":-40},{"c":"R8","x":100,"y":-47},{"c":"R8","x":105,"y":-50},{"c":"R8","x":110,"y":-48},{"c":"R8","x":120,"y":-36},{"c":"R8","x":130,"y":-22},{"c":"R8","x":140,"y":-12},
{"c":"R9","x":40,"y":0},{"c":"R9","x":70,"y":-1},{"c":"R9","x":80,"y":-3},{"c":"R9","x":90,"y":-6},{"c":"R9","x":100,"y":-9},{"c":"R9","x":110,"y":-9},{"c":"R9","x":120,"y":-6},{"c":"R9","x":130,"y":-3},{"c":"R9","x":140,"y":-1},
{"c":"R10","x":40,"y":0},{"c":"R10","x":60,"y":-1},{"c":"R10","x":80,"y":-2},{"c":"R10","x":100,"y":-1},{"c":"R10","x":120,"y":2},{"c":"R10","x":140,"y":4}
],
"box":[{"x0":60,"x1":100,"y0":-1000,"y1":-300}]
},
"spacing":102,
"bounds":"flush",
"resolve":{"scale":{"color":"independent"},"legend":{"color":"independent"}},
"hconcat":[
{
 "width":284,"height":272,
 "resolve":{"axis":{"x":"independent","y":"independent"}},
 "layer":[
  {"data":{"name":"box"},"mark":{"type":"rect","fill":"white"},
   "encoding":{
    "x":{"field":"x0","type":"quantitative","scale":{"domain":[40,140],"nice":false,"zero":false},
      "axis":{"orient":"bottom","values":[40,50,60,70,80,90,100,110,120,130,140],"labelExpr":"datum.value % 20 == 0 ? datum.label : ''","title":"ν [MHz]","labelPadding":4,"titlePadding":2}},
    "x2":{"field":"x1"},
    "y":{"field":"y0","type":"quantitative","scale":{"domain":[-1350,50],"nice":false,"zero":false},
      "axis":{"orient":"left","values":[0,-200,-400,-600,-800,-1000,-1200],"format":"d","title":"δT_b [mK]","labelPadding":4,"titlePadding":4}},
    "y2":{"field":"y1"}}},
  {"data":{"name":"cd"},"mark":{"type":"line","clip":true,"strokeWidth":1,"strokeOpacity":0.25,"interpolate":"monotone"},
   "encoding":{
    "x":{"field":"x","type":"quantitative","axis":{"orient":"top","values":[54.63,67.64,88.78,129.13],"labelExpr":"'' + round(1420.4/datum.value - 1)","title":"z","titleFont":"Liberation Serif","titleFontStyle":"italic","titleFontWeight":"normal","titleFontSize":21,"titlePadding":2,"labelPadding":3}},
    "y":{"field":"y","type":"quantitative","axis":null},
    "detail":{"field":"c"},
    "color":{"datum":"Inconsistent with EDGES","scale":{"domain":["Consistent with EDGES","Inconsistent with EDGES"],"range":["#e3706c","#707070"]},
      "legend":{"title":"Coulomb-Like DM","orient":"bottom-right","offset":3,"padding":6,"fillColor":"rgba(255,255,255,0.85)","strokeColor":"#d4d4d4","cornerRadius":3,"titleFontSize":16,"titleFontWeight":"bold","titleAnchor":"middle","titlePadding":3,"labelFontSize":14,"symbolType":"stroke","symbolSize":361,"symbolStrokeWidth":1.6,"symbolOpacity":0.85,"rowPadding":0,"labelOffset":10}}}},
  {"data":{"name":"cs"},"mark":{"type":"line","clip":true,"strokeWidth":1.1,"strokeOpacity":0.35,"interpolate":"monotone"},
   "encoding":{
    "x":{"field":"x","type":"quantitative","axis":null},
    "y":{"field":"y","type":"quantitative","axis":null},
    "detail":{"field":"c"},
    "color":{"datum":"Inconsistent with EDGES"}}},
  {"data":{"name":"box"},"mark":{"type":"rect","filled":false,"stroke":"#111111","strokeDash":[4,3],"strokeWidth":1.3},
   "encoding":{
    "x":{"field":"x0","type":"quantitative","axis":null},"x2":{"field":"x1"},
    "y":{"field":"y0","type":"quantitative","axis":null},"y2":{"field":"y1"}}},
  {"data":{"name":"ce"},"mark":{"type":"line","clip":true,"strokeWidth":2.5,"interpolate":"monotone"},
   "encoding":{
    "x":{"field":"x","type":"quantitative","axis":null},
    "y":{"field":"y","type":"quantitative","axis":null},
    "detail":{"field":"c"},
    "stroke":{"field":"s","type":"quantitative","scale":{"type":"log","domain":[1e-43,1e-38],"scheme":"plasma","reverse":true},
      "legend":{"title":"σ₀ [cm²]","orient":"none","legendX":659,"legendY":-24,"padding":0,"direction":"vertical","gradientLength":272,"gradientThickness":7,"gradientStrokeColor":"#222222","gradientStrokeWidth":0.8,
       "values":[1e-43,1e-42,1e-41,1e-40,1e-39,1e-38],
       "labelExpr":"datum.value < 5e-43 ? '10⁻⁴³' : datum.value < 5e-42 ? '10⁻⁴²' : datum.value < 5e-41 ? '10⁻⁴¹' : datum.value < 5e-40 ? '10⁻⁴⁰' : datum.value < 5e-39 ? '10⁻³⁹' : '10⁻³⁸'",
       "labelFontSize":15,"labelOffset":9,"labelColor":"#111111","titleFontSize":16,"titleFontWeight":"normal","titleColor":"#111111","titleAlign":"center","titleAnchor":"start","titlePadding":8}}}}
 ]
},
{
 "width":284,"height":272,
 "resolve":{"axis":{"x":"independent","y":"independent"}},
 "layer":[
  {"data":{"name":"box"},"mark":{"type":"rect","fill":"white"},
   "encoding":{
    "x":{"field":"x0","type":"quantitative","scale":{"domain":[40,140],"nice":false,"zero":false},
      "axis":{"orient":"bottom","values":[40,50,60,70,80,90,100,110,120,130,140],"labelExpr":"datum.value % 20 == 0 ? datum.label : ''","title":"ν [MHz]","labelPadding":4,"titlePadding":2}},
    "x2":{"field":"x1"},
    "y":{"field":"y0","type":"quantitative","scale":{"domain":[-1350,50],"nice":false,"zero":false},
      "axis":{"orient":"left","values":[0,-200,-400,-600,-800,-1000,-1200],"format":"d","title":"δT_b [mK]","labelPadding":4,"titlePadding":4}},
    "y2":{"field":"y1"}}},
  {"data":{"name":"mi"},"mark":{"type":"line","clip":true,"strokeWidth":1.2,"strokeOpacity":0.5,"interpolate":"monotone"},
   "encoding":{
    "x":{"field":"x","type":"quantitative","axis":{"orient":"top","values":[54.63,67.64,88.78,129.13],"labelExpr":"'' + round(1420.4/datum.value - 1)","title":"z","titleFont":"Liberation Serif","titleFontStyle":"italic","titleFontWeight":"normal","titleFontSize":21,"titlePadding":2,"labelPadding":3}},
    "y":{"field":"y","type":"quantitative","axis":null},
    "detail":{"field":"c"},
    "color":{"datum":"Inconsistent with EDGES","scale":{"domain":["Consistent with EDGES","Inconsistent with EDGES"],"range":["#e3706c","#707070"]},
      "legend":{"title":"Millicharged DM","orient":"bottom-right","offset":3,"padding":6,"fillColor":"rgba(255,255,255,0.85)","strokeColor":"#d4d4d4","cornerRadius":3,"titleFontSize":16,"titleFontWeight":"bold","titleAnchor":"middle","titlePadding":3,"labelFontSize":14,"symbolType":"stroke","symbolSize":361,"symbolStrokeWidth":1.6,"symbolOpacity":0.85,"rowPadding":0,"labelOffset":10}}}},
  {"data":{"name":"box"},"mark":{"type":"rect","filled":false,"stroke":"#111111","strokeDash":[4,3],"strokeWidth":1.3},
   "encoding":{
    "x":{"field":"x0","type":"quantitative","axis":null},"x2":{"field":"x1"},
    "y":{"field":"y0","type":"quantitative","axis":null},"y2":{"field":"y1"}}}
 ]
}
]
}
